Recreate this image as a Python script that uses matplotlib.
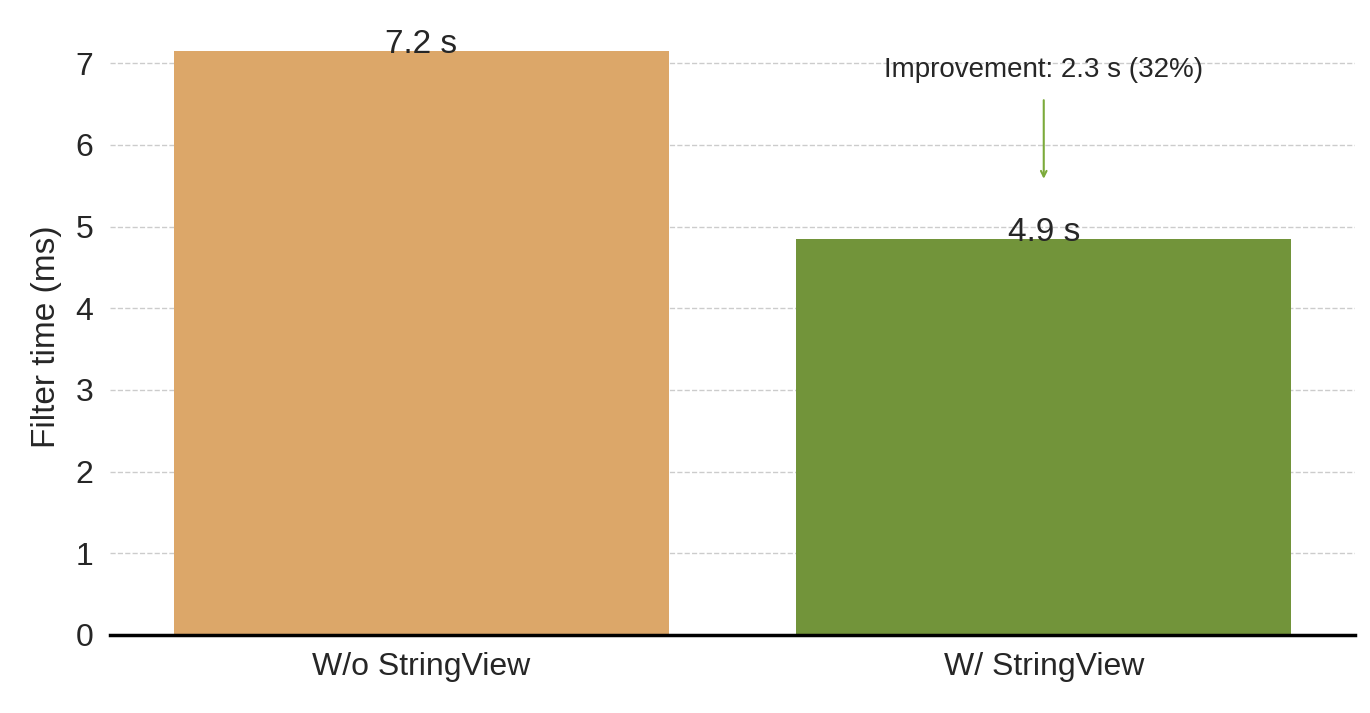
import matplotlib.pyplot as plt

# Datos
categories = ["W/o StringView", "W/ StringView"]
values = [7.15, 4.85]
labels = ["7.2 s", "4.9 s"]
colors = ["#DCA769", "#72943A"]

plt.rcParams['font.family'] = ['Liberation Sans', 'DejaVu Sans']

fig = plt.figure(figsize=(13.7, 7.13), dpi=100)
ax = fig.add_axes([110 / 1370, 1 - 635 / 713, 1245 / 1370, 7.3 * 81.7 / 713])

ax.bar(range(len(categories)), values, width=0.795, color=colors, zorder=2)
for i, (v, lab) in enumerate(zip(values, labels)):
    ax.text(i, v - 0.03, lab, ha='center', va='baseline', fontsize=24, color='#262626')

ax.set_xlim(-0.5, 1.5)
ax.set_ylim(0, 7.3)
ax.set_xticks(range(len(categories)))
ax.set_xticklabels(categories, fontsize=23, color='#262626')
ax.set_yticks(range(8))
ax.tick_params(axis='y', labelsize=23, colors='#262626', length=0, pad=12)
ax.tick_params(axis='x', length=0, pad=12)
ax.set_ylabel("Filter time (ms)", fontsize=24, color='#262626', labelpad=10)
ax.yaxis.grid(True, linestyle='--', color='#cccccc', linewidth=1, zorder=0)
for s in ['top', 'right', 'left']:
    ax.spines[s].set_visible(False)
ax.spines['bottom'].set_linewidth(2.5)
ax.spines['bottom'].set_color('black')

ax.annotate("", xy=(1, 5.55), xytext=(1, 6.58),
            arrowprops=dict(arrowstyle='->', color='#7BAA3A', lw=1.5))
ax.text(1, 6.92, "Improvement: 2.3 s (32%)", ha='center', va='center',
        fontsize=20, color='#262626')

fig.savefig("out.png")
